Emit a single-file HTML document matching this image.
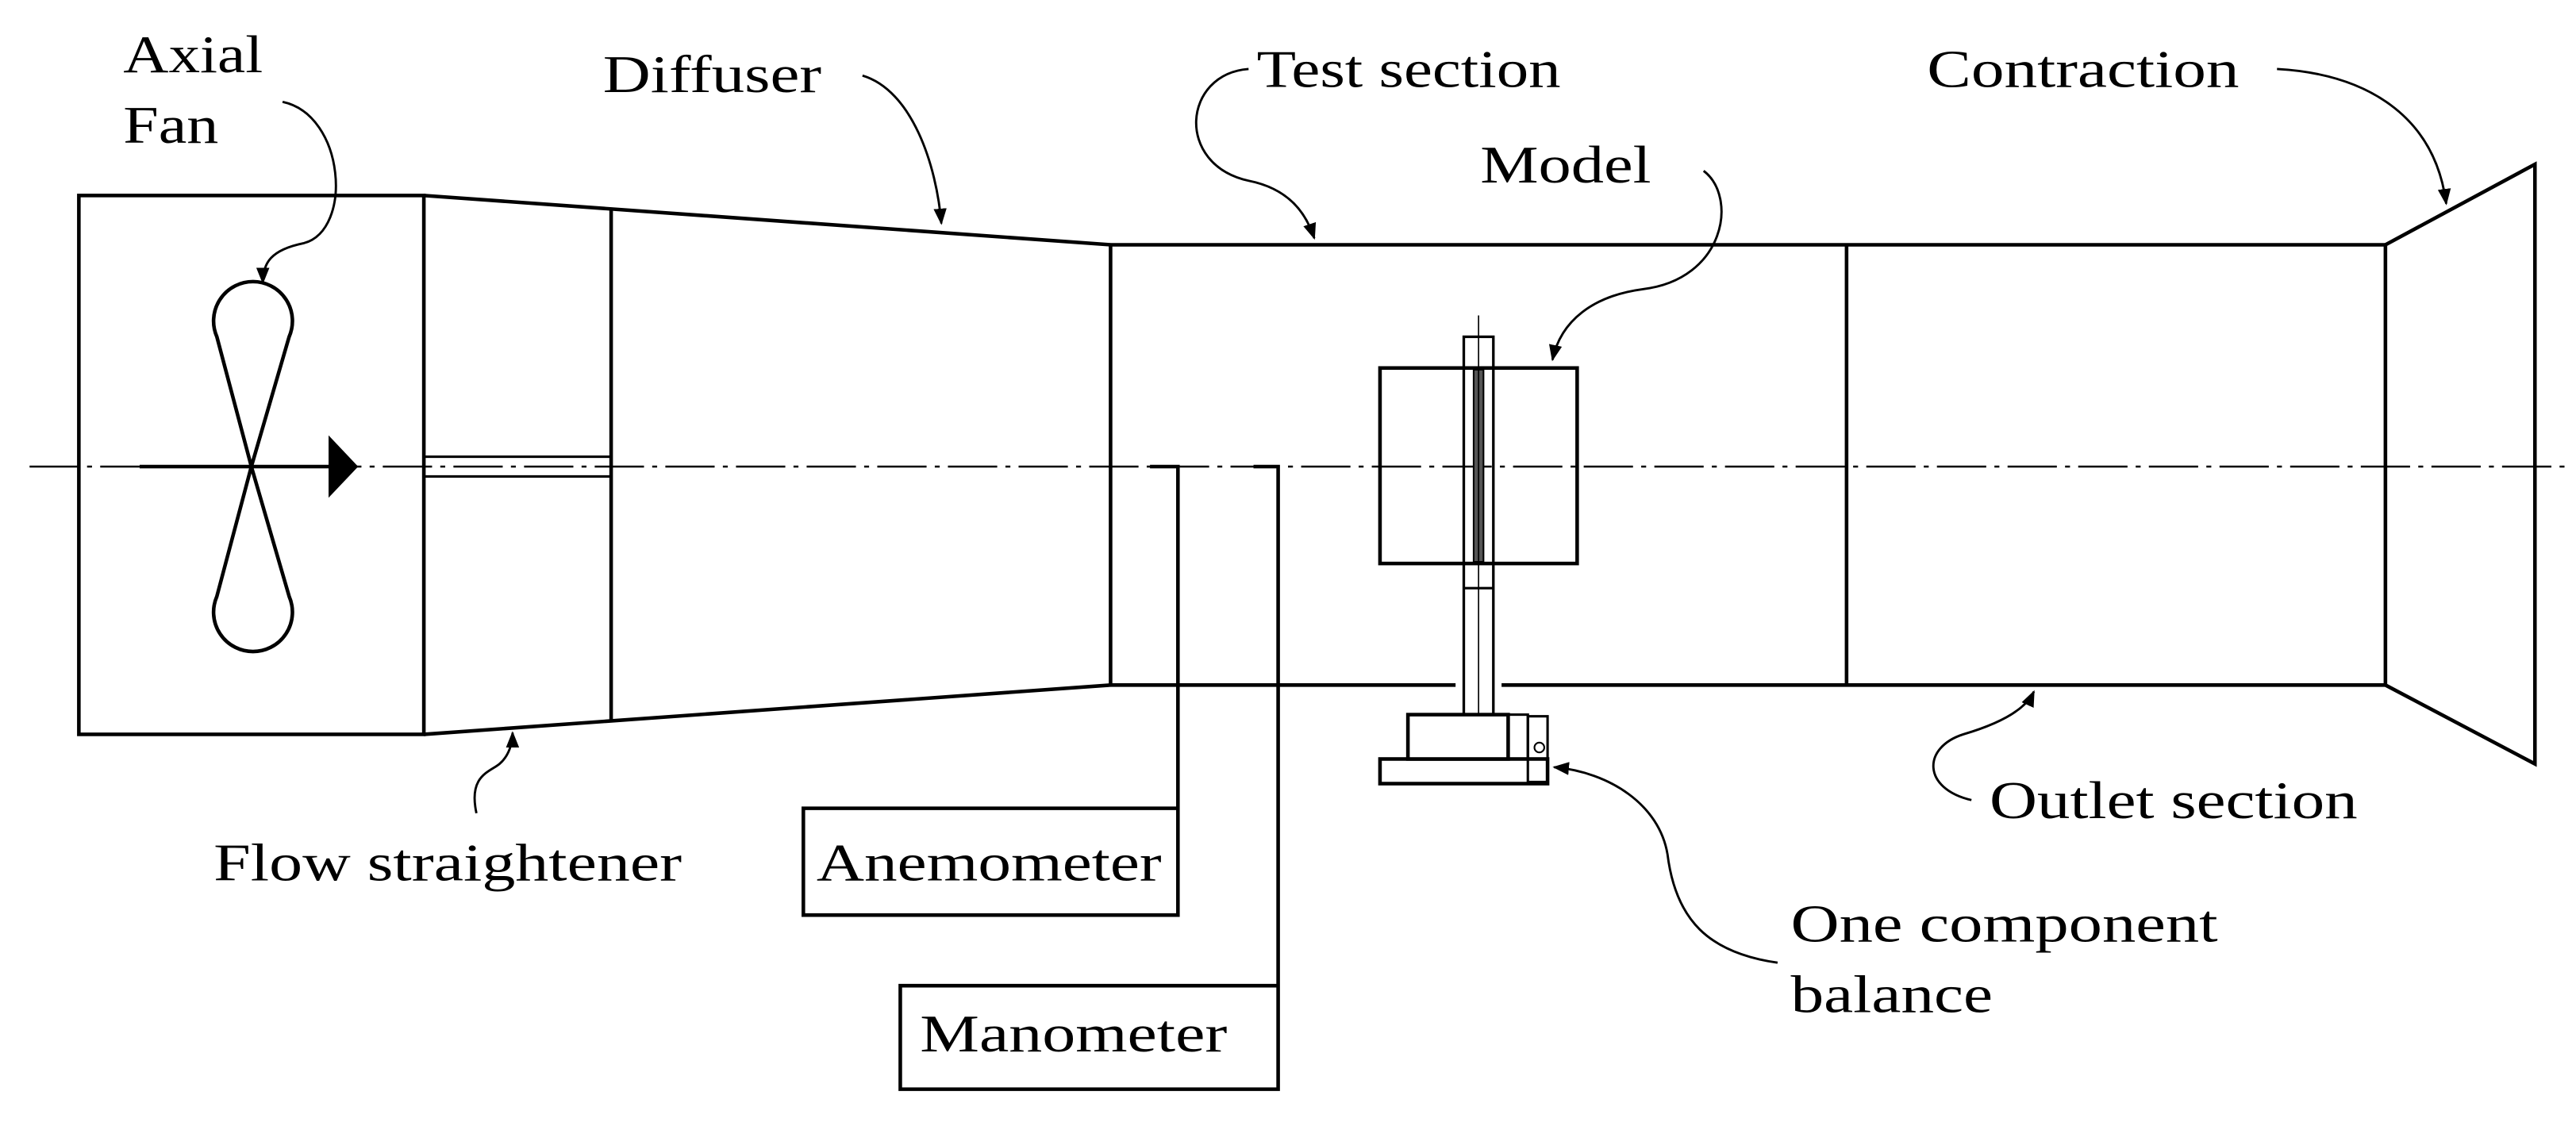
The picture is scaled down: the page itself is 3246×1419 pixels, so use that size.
<!DOCTYPE html>
<html><head><style>html,body{margin:0;padding:0;background:#fff}svg{display:block}</style></head><body>
<svg width="3246" height="1419" viewBox="0 0 1568 685.4" preserveAspectRatio="none" xmlns="http://www.w3.org/2000/svg">
<defs>
<marker id="a" markerWidth="10" markerHeight="10" refX="9" refY="5" orient="auto" markerUnits="userSpaceOnUse"><path d="M0,1 L10,5 L0,9 Z" fill="#000"/></marker>
</defs>
<g fill="none" stroke="#000" stroke-width="2.2">
<line x1="18" y1="284" x2="1562" y2="284" stroke-width="1.2" stroke-dasharray="30,5,3,5"/>
<rect x="48" y="119" width="210" height="328"/>
<path d="M258,119 L676,149 M258,447 L676,417"/>
<line x1="372" y1="127" x2="372" y2="439"/>
<line x1="258" y1="278" x2="372" y2="278" stroke-width="1.5"/>
<line x1="258" y1="290" x2="372" y2="290" stroke-width="1.5"/>
<line x1="676" y1="149" x2="1452" y2="149"/>
<line x1="676" y1="417" x2="886" y2="417"/>
<line x1="914" y1="417" x2="1452" y2="417"/>
<line x1="676" y1="149" x2="676" y2="417"/>
<line x1="1124" y1="149" x2="1124" y2="417"/>
<line x1="1452" y1="149" x2="1452" y2="417"/>
<path d="M1452,149 L1543,100 L1543,465 L1452,417"/>
<path d="M153,284 L132,205 A24,24 0 1 1 176,205 Z"/>
<path d="M153,284 L132,363 A24,24 0 1 0 176,363 Z"/>
<line x1="85" y1="284" x2="202" y2="284"/>
<path d="M700,284 L717,284 L717,557 L489,557 L489,492 L717,492"/>
<path d="M763,284 L778,284 L778,663 L548,663 L548,600 L778,600"/>
<rect x="840" y="224" width="120" height="119"/>
<rect x="891" y="205" width="18" height="230" stroke-width="1.6"/>
<line x1="891" y1="358" x2="909" y2="358" stroke-width="1.5"/>
<rect x="897" y="225" width="6" height="117" fill="#555" stroke-width="1"/>
<line x1="900" y1="192" x2="900" y2="440" stroke-width="0.8"/>
<rect x="840" y="462" width="102" height="15" fill="#fff"/>
<rect x="857" y="435" width="61" height="27" fill="#fff"/>
<rect x="918" y="435" width="12" height="27" stroke-width="1.5"/>
<rect x="930" y="436" width="12" height="40" stroke-width="1.5"/>
<circle cx="937" cy="455" r="3" stroke-width="1"/>
<g stroke-width="1.4" marker-end="url(#a)">
<path d="M172,62 C210,70 215,140 185,148 C165,152 160,160 160,172"/>
<path d="M525,46 C555,55 570,100 573,136"/>
<path d="M760,42 C720,45 715,100 760,110 C785,115 795,130 800,145"/>
<path d="M1386,42 C1440,45 1482,70 1489,124"/>
<path d="M1037,104 C1058,120 1050,170 1000,176 C970,180 950,195 945,219"/>
<path d="M290,495 C285,472 298,470 304,465 C310,460 312,452 312,446"/>
<path d="M1200,487 C1170,480 1170,455 1195,447 C1212,442 1232,434 1238,421"/>
<path d="M1082,586 C1040,580 1020,560 1015,520 C1010,490 980,470 946,467"/>
</g>
</g>
<path d="M200,265 L218,284 L200,303 Z" fill="#000"/>
<g font-family="'Liberation Serif', serif" font-size="32" fill="#000">
<text x="75" y="44" textLength="85" lengthAdjust="spacingAndGlyphs">Axial</text>
<text x="75" y="87" textLength="58" lengthAdjust="spacingAndGlyphs">Fan</text>
<text x="367" y="56" textLength="133" lengthAdjust="spacingAndGlyphs">Diffuser</text>
<text x="765" y="53" textLength="185" lengthAdjust="spacingAndGlyphs">Test section</text>
<text x="1173" y="53" textLength="190" lengthAdjust="spacingAndGlyphs">Contraction</text>
<text x="901" y="111" textLength="104" lengthAdjust="spacingAndGlyphs">Model</text>
<text x="130" y="536" textLength="285" lengthAdjust="spacingAndGlyphs">Flow straightener</text>
<text x="497" y="536" textLength="210" lengthAdjust="spacingAndGlyphs">Anemometer</text>
<text x="560" y="640" textLength="187" lengthAdjust="spacingAndGlyphs">Manometer</text>
<text x="1211" y="498" textLength="224" lengthAdjust="spacingAndGlyphs">Outlet section</text>
<text x="1090" y="573" textLength="260" lengthAdjust="spacingAndGlyphs">One component</text>
<text x="1090" y="616" textLength="123" lengthAdjust="spacingAndGlyphs">balance</text>
</g>
</svg>
</body></html>
